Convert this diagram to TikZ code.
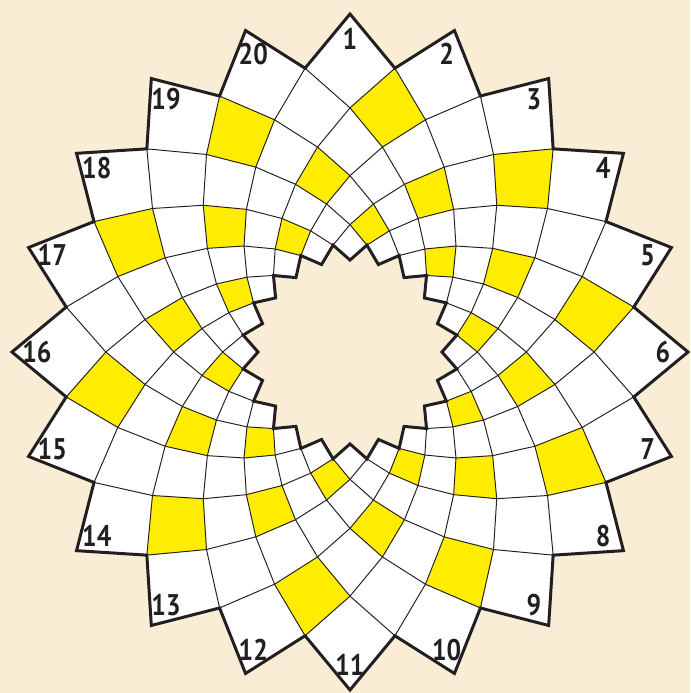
\documentclass[tikz,border=0pt]{standalone}
\usepackage{fontspec}
\setmainfont{PT Sans}
\newfontfamily\tipfont{PT Sans}[FakeStretch=0.86]
\definecolor{paper}{RGB}{250,237,213}
\definecolor{marker}{RGB}{255,237,0}
\definecolor{ink}{RGB}{35,31,32}
\newcommand\Rout{338}
\newcommand\Qstep{0.1627}
\tikzset{
  gridline/.style={ink, line width=0.55pt},
  outline/.style={ink, line width=1.7pt, line join=miter},
  markcell/.style={fill=marker},
  tiplabel/.style={font=\tipfont\bfseries\fontsize{17}{17}\selectfont, text=ink, inner sep=0pt},
}
\begin{document}
\begin{tikzpicture}[x=0.02cm, y=0.02cm]
  % paper
  \fill[paper] (-350,-341) rectangle (340,352);
  \useasboundingbox (-350,-341) rectangle (340,352);

  % white ring between the two star outlines
  \fill[white] plot[domain=0:40, samples=41] ({90-9*\x}:{\Rout*exp(-\Qstep*(1-abs(mod(\x,2)-1)))}) -- cycle;
  \fill[paper] plot[domain=0:40, samples=41] ({90-9*\x}:{\Rout*exp(-\Qstep*(7+abs(mod(\x,2)-1)))}) -- cycle;

  % yellow cells: odd rings, every second cell
  \foreach \k/\first in {1/1, 3/3, 5/1}{
    \foreach \j in {0,...,9}{
      \pgfmathsetmacro\m{\first+4*\j}
      \fill[markcell] ({90-9*\m}:{\Rout*exp(-\Qstep*\k)})
        -- ({90-9*(\m+1)}:{\Rout*exp(-\Qstep*(\k+1))})
        -- ({90-9*\m}:{\Rout*exp(-\Qstep*(\k+2))})
        -- ({90-9*(\m-1)}:{\Rout*exp(-\Qstep*(\k+1))}) -- cycle;
    }
  }

  % grid lines, both ways
  \foreach \d in {0,2,...,38}{
    \draw[gridline] plot[domain=0:8, samples=9] ({90-9*(\d+\x)}:{\Rout*exp(-\Qstep*\x)});
    \draw[gridline] plot[domain=0:8, samples=9] ({90-9*(\d-\x)}:{\Rout*exp(-\Qstep*\x)});
  }

  % outer and inner star
  \draw[outline] plot[domain=0:40, samples=41] ({90-9*\x}:{\Rout*exp(-\Qstep*(1-abs(mod(\x,2)-1)))}) -- cycle;
  \draw[outline] plot[domain=0:40, samples=41] ({90-9*\x}:{\Rout*exp(-\Qstep*(7+abs(mod(\x,2)-1)))}) -- cycle;

  % numbers at the tips
  \foreach \i in {1,...,20}
    \node[tiplabel] (tip\i) at ({90-18*(\i-1)}:313) {\i};
\end{tikzpicture}
\end{document}
